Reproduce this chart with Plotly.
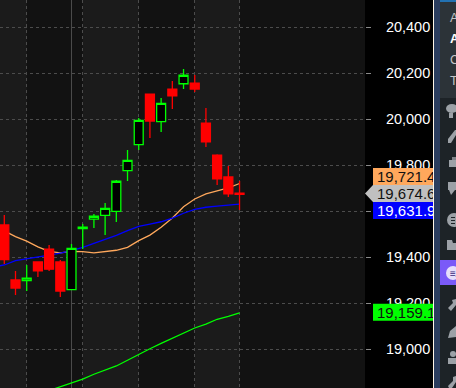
import plotly.graph_objects as go

W, H = 456, 388
idx = list(range(22))
opens = [19541,19302,19299,19380,19436,19380,19260,19525,19566,19583,19600,19777,19890,20110,19990,20132,20155,20158,19984,19845,19750,19679]
highs = [19584,19341,19367,19380,19454,19389,19458,19545,19589,19636,19736,19867,20006,20110,20093,20167,20219,20193,20050,19849,19797,19732]
lows  = [19371,19236,19254,19315,19341,19228,19259,19436,19528,19497,19554,19732,19867,19919,19945,20045,20132,20119,19880,19715,19663,19606]
closes= [19390,19267,19310,19341,19349,19254,19439,19532,19579,19613,19731,19822,19996,19993,20070,20102,20192,20132,19902,19741,19676,19674.6]
orange = [19515,19490,19471,19446,19426,19420,19426,19425,19420,19426,19431,19444,19473,19497,19531,19571,19620,19654,19676,19689,19702,19721.4]
blue_x = [-1]+idx
blue = [19358,19367,19386,19393,19400,19410,19419,19429,19444,19461,19477,19496,19516,19535,19545,19555,19571,19592,19609,19618,19623,19628,19631.9]
green_x = idx[4:]
green = [18821,18837,18854,18871,18892,18909,18928,18953,18979,19003,19026,19048,19071,19093,19110,19131,19144,19159.1]
y_ticks = [19000,19200,19400,19600,19800,20000,20200,20400]
x_grid = [2,7,12,17,21]
dark_bands = [(2,7),(12,17),(21,33)]
crosshair = 6
tags = [("19,721.4","#ffa85c","#111111",176.5),("19,674.6","#c0c0c0","#111111",193.5),
        ("19,631.9","#0000ff","#ffffff",210.5),("19,159.1","#00ff00","#111111",312.2)]
side_text = [("A",18,"#c3c4c7",False),("A",39,"#ffffff",True),("C",60,"#c3c4c7",False),("Ta",81,"#c3c4c7",False)]

def px(x): return x/W
def py(y): return 1-y/H

fig = go.Figure()
for xs, ys, c in [(idx,orange,"#ffa85c"),(blue_x,blue,"#0000ff"),(green_x,green,"#00ff00")]:
    fig.add_trace(go.Scatter(x=xs,y=ys,mode="lines",line=dict(color=c,width=1.3),zorder=0,hoverinfo="skip"))
fig.add_trace(go.Candlestick(x=idx,open=opens,high=highs,low=lows,close=closes,whiskerwidth=0,zorder=1,
    increasing=dict(line=dict(color="#00ff00",width=1.3),fillcolor="#000000"),
    decreasing=dict(line=dict(color="#ff0000",width=1.3),fillcolor="#ff0000")))

shapes=[]
for a,b in dark_bands:
    shapes.append(dict(type="rect",xref="x",yref="paper",x0=a,x1=b,y0=0,y1=1,fillcolor="#121212",line_width=0,layer="below"))
shapes.append(dict(type="line",xref="x",yref="paper",x0=crosshair,x1=crosshair,y0=0,y1=1,line=dict(color="#4a4a4a",width=1),layer="below"))

def rect(x0,y0,x1,y1,c):
    shapes.append(dict(type="rect",xref="paper",yref="paper",x0=px(x0),x1=px(x1),y0=py(y1),y1=py(y0),fillcolor=c,line_width=0,layer="above"))
def path(points,c):
    d="M"+" L".join(f"{px(a):.5f},{py(b):.5f}" for a,b in points)+" Z"
    shapes.append(dict(type="path",xref="paper",yref="paper",path=d,fillcolor=c,line_width=0,layer="above"))
def circ(x0,y0,x1,y1,c):
    shapes.append(dict(type="circle",xref="paper",yref="paper",x0=px(x0),x1=px(x1),y0=py(y1),y1=py(y0),fillcolor=c,line_width=0,layer="above"))

annotations=[]
for text,bg,fg,cy in tags:
    rect(373,cy-8.5,433,cy+8.5,bg)
    annotations.append(dict(xref="paper",yref="paper",x=px(377),y=py(cy),xanchor="left",yanchor="middle",text=text,showarrow=False,
        width=56,height=17,align="left",borderpad=0,borderwidth=0,font=dict(family="Liberation Sans",size=15,color=fg)))
path([(373,185),(365,193.5),(373,202)],"#c0c0c0")

# right-hand panel
rect(433,0,434,H,"#fff5e6")
rect(434,0,440,H,"#2b3d5e")
rect(440,0,456,H,"#1d2327")
rect(440,2,456,98,"#2c3338")
rect(440,0,456,2,"#2271b1")
rect(440,260,456,285,"#7a5af8")
g="#9ca1a7"
circ(446,104,458,113,g); rect(449,113,453,118,g)
path([(448,139),(455,130),(456,130),(456,135),(451,143),(448,143)],g)
rect(452,157,456,162,"#7d8187"); rect(449,160,456,167,g)
rect(448,182,456,190,g); path([(449,190),(451,195),(455,190)],g)
circ(447,213,461,227,g); rect(451,217,455,218,"#1d2327"); rect(451,220,455,221,"#1d2327"); rect(451,223,455,224,"#1d2327")
path([(447,240),(452,240),(453,243),(456,243),(456,250),(447,250)],g)
circ(446,266,460,280,"#e6dffc")
path([(448,308),(453,303),(452,300),(456,299),(456,305),(451,311)],g)
path([(448,338),(450,331),(456,326),(456,337)],g)
circ(450,351,456,357,g); rect(448,358,456,364,g)
path([(448,386),(453,381),(453,377),(456,376),(456,382),(452,388),(449,388)],g)

for t,y,c,b in side_text:
    annotations.append(dict(xref="paper",yref="paper",x=px(448),y=py(y),xanchor="left",yanchor="middle",showarrow=False,
        text=f"<b>{t}</b>" if b else t,font=dict(family="Liberation Sans",size=12.5,color=c)))
annotations.append(dict(xref="paper",yref="paper",x=px(448),y=py(273),xanchor="left",yanchor="middle",showarrow=False,
    text="≡A",font=dict(family="Liberation Sans",size=10,color="#3c2a7a")))

fig.update_layout(width=W,height=H,margin=dict(l=0,r=0,t=0,b=0),paper_bgcolor="#000000",plot_bgcolor="#1b1b1b",
    showlegend=False,boxgap=0.2,boxgroupgap=0,shapes=shapes,annotations=annotations,
    xaxis=dict(domain=[0,365/W],range=[-0.384,32.2],tickvals=x_grid,showticklabels=False,ticks="",showgrid=True,griddash="dot",
        gridcolor="#4c4c4c",gridwidth=1,zeroline=False,rangeslider=dict(visible=False),showline=False),
    yaxis=dict(side="right",range=[18832.2,20519.1],tickvals=y_ticks,tickformat=",d",ticks="outside",ticklen=5,tickcolor="#8a8a8a",
        ticklabelstandoff=12,tickfont=dict(family="Liberation Sans",size=14.5,color="#ffffff"),showgrid=True,griddash="dot",
        gridcolor="#4c4c4c",gridwidth=1,zeroline=False,showline=True,linecolor="#8a8a8a",linewidth=1))
fig.write_html("out.html",config=dict(displayModeBar=False),
    post_script="document.documentElement.style.overflow='hidden';document.body.style.margin='0';document.body.style.background='#000';")
